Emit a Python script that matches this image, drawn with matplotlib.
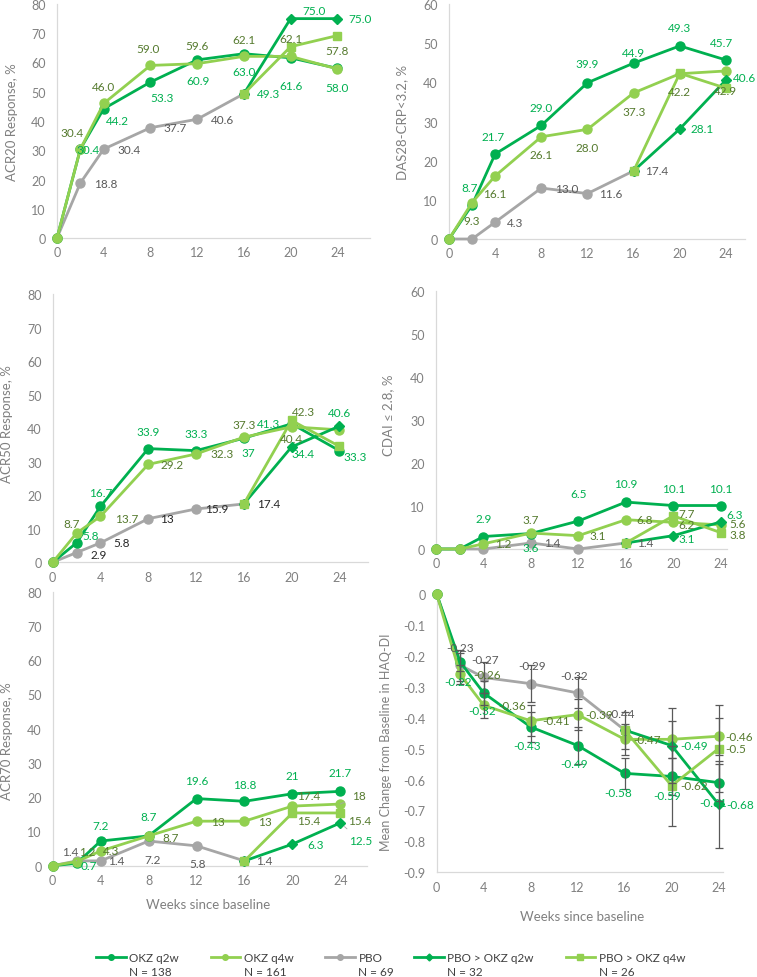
import numpy as np
import matplotlib.pyplot as plt
from matplotlib.lines import Line2D

plt.rcParams['font.family'] = ['Lato', 'DejaVu Sans']

weeks = [0, 2, 4, 8, 12, 16, 20, 24]
switch_weeks = [16, 20, 24]
tick_weeks = [0, 4, 8, 12, 16, 20, 24]

# ACR20 response, %
acr20_q2w = [0, 30.4, 44.2, 53.3, 60.9, 63.0, 61.6, 58.0]
acr20_q4w = [0, 30.4, 46.0, 59.0, 59.6, 62.1, 62.1, 57.8]
acr20_pbo = [0, 18.8, 30.4, 37.7, 40.6, 49.3]
acr20_sw2 = [49.3, 75.0, 75.0]
acr20_sw4 = [49.3, 65.4, 69.2]

# DAS28-CRP<3.2, %
das_q2w = [0, 8.7, 21.7, 29.0, 39.9, 44.9, 49.3, 45.7]
das_q4w = [0, 9.3, 16.1, 26.1, 28.0, 37.3, 42.2, 42.9]
das_pbo = [0, 0, 4.3, 13.0, 11.6, 17.4]
das_sw2 = [17.4, 28.1, 40.6]
das_sw4 = [17.4, 42.3, 38.5]

# ACR50 response, %
acr50_q2w = [0, 5.8, 16.7, 33.9, 33.3, 37.0, 41.3, 33.3]
acr50_q4w = [0, 8.7, 13.7, 29.2, 32.3, 37.3, 40.4, 39.5]
acr50_pbo = [0, 2.9, 5.8, 13, 15.9, 17.4]
acr50_sw2 = [17.4, 34.4, 40.6]
acr50_sw4 = [17.4, 42.3, 34.6]

# CDAI <= 2.8, %
cdai_q2w = [0, 0, 2.9, 3.6, 6.5, 10.9, 10.1, 10.1]
cdai_q4w = [0, 0, 1.2, 3.7, 3.1, 6.8, 6.2, 5.6]
cdai_pbo = [0, 0, 0, 1.4, 0, 1.4]
cdai_sw2 = [1.4, 3.1, 6.3]
cdai_sw4 = [1.4, 7.7, 3.8]

# ACR70 response, %
acr70_q2w = [0, 0.7, 7.2, 8.7, 19.6, 18.8, 21, 21.7]
acr70_q4w = [0, 1.2, 4.3, 8.7, 13, 13, 17.4, 18]
acr70_pbo = [0, 1.4, 1.4, 7.2, 5.8, 1.4]
acr70_sw2 = [1.4, 6.3, 12.5]
acr70_sw4 = [1.4, 15.4, 15.4]

# HAQ-DI mean change from baseline (+ error)
haq_q2w = [0, -0.22, -0.32, -0.43, -0.49, -0.58, -0.59, -0.61]
haq_q4w = [0, -0.26, -0.36, -0.41, -0.39, -0.47, -0.47, -0.46]
haq_pbo = [0, -0.23, -0.27, -0.29, -0.32, -0.44]
haq_sw2 = [-0.44, -0.49, -0.68]
haq_sw4 = [-0.44, -0.62, -0.5]
haq_q2w_err = [0, 0.03, 0.04, 0.05, 0.06, 0.05, 0.06, 0.06]
haq_q4w_err = [0, 0.03, 0.04, 0.05, 0.05, 0.05, 0.06, 0.06]
haq_pbo_err = [0, 0.05, 0.05, 0.06, 0.05, 0.06]
haq_sw2_err = [0, 0.12, 0.14]
haq_sw4_err = [0, 0.13, 0.14]

legend_names = ['OKZ q2w', 'OKZ q4w', 'PBO', 'PBO > OKZ q2w', 'PBO > OKZ q4w']
legend_n = [138, 161, 69, 32, 26]

DARK = '#00B050'
LIGHT = '#92D050'
GRAY = '#A6A6A6'
TXT = {'g': '#00B050', 'o': '#557A2E', 'k': '#595959', 'b': '#262626'}
AXC = '#D9D9D9'
TICKC = '#808080'

W, H = 757, 978
fig = plt.figure(figsize=(W / 100, H / 100), dpi=100)


def add_ax(left, right, top, bottom):
    return fig.add_axes([left / W, 1 - bottom / H, (right - left) / W, (bottom - top) / H])


def draw(ax, data, xmax, ylim, yticks, ylabel, lab_xy, labels, fmt, fs=8.5, errs=None):
    q2w, q4w, pbo, sw2, sw4 = data
    ser = {
        'pbo': (weeks[:len(pbo)], pbo),
        'q2w': (weeks, q2w),
        'q4w': (weeks, q4w),
        'sw2': (switch_weeks, sw2),
        'sw4': (switch_weeks, sw4),
    }
    style = {
        'pbo': (GRAY, 'o', 6.5),
        'q2w': (DARK, 'o', 6.5),
        'q4w': (LIGHT, 'o', 6.5),
        'sw2': (DARK, 'D', 5.0),
        'sw4': (LIGHT, 's', 6.0),
    }
    for k in ['pbo', 'q2w', 'q4w', 'sw2', 'sw4']:
        x, y = ser[k]
        c, m, ms = style[k]
        ax.plot(x, y, color=c, lw=2, marker=m, ms=ms, clip_on=False, zorder=3)
    if errs is not None:
        for k, e in errs.items():
            x, y = ser[k]
            x = np.array(x); y = np.array(y); e = np.array(e)
            sel = e > 0
            ax.errorbar(x[sel], y[sel], yerr=e[sel], fmt='none', ecolor='#595959',
                        elinewidth=0.9, capsize=3, capthick=0.9, zorder=4)
    for spec in labels:
        k, i, dx, dy, c = spec[:5]
        lead = len(spec) > 5
        x, y = ser[k]
        kw = {}
        if lead:
            kw['arrowprops'] = dict(arrowstyle='-', color='#A6A6A6', lw=0.6, shrinkA=4, shrinkB=4)
        ax.annotate(fmt.format(y[i]), (x[i], y[i]), xytext=(dx, dy), textcoords='offset pixels',
                    ha='center', va='center', fontsize=fs, color=TXT[c],
                    annotation_clip=False, zorder=5, **kw)
    ax.set_xlim(0, xmax)
    ax.set_ylim(*ylim)
    ax.set_xticks(tick_weeks)
    ax.set_yticks(yticks)
    if isinstance(yticks[0], float):
        ax.set_yticklabels(['{:g}'.format(v) for v in yticks])
    for s in ['top', 'right']:
        ax.spines[s].set_visible(False)
    for s in ['left', 'bottom']:
        ax.spines[s].set_color(AXC)
        ax.spines[s].set_linewidth(0.9)
    ax.tick_params(axis='both', length=0, labelsize=9, labelcolor=TICKC)
    ax.tick_params(axis='y', pad=8)
    ax.tick_params(axis='x', pad=6)
    ax.set_ylabel(ylabel, fontsize=9.5, color=TICKC)
    ax.yaxis.set_label_coords(*lab_xy)


# ---- ACR20
ax1 = add_ax(57, 370, 5, 239)
draw(ax1, (acr20_q2w, acr20_q4w, acr20_pbo, acr20_sw2, acr20_sw4), 26.8, (0, 80),
     list(range(0, 81, 10)), 'ACR20 Response, %', (-0.125, 0.5),
     [('q4w', 1, -8, 17, 'o', 1), ('q2w', 1, 8, 0, 'g'),
      ('q4w', 2, 0, 17, 'o'), ('q2w', 2, 14, -12, 'g'),
      ('q4w', 3, -2, 17, 'o'), ('q2w', 3, 12, -15, 'g'),
      ('q4w', 4, 0, 18, 'o'), ('q2w', 4, 1, -21, 'g'),
      ('q4w', 5, 0, 17, 'o'), ('q2w', 5, 0, -18, 'g'),
      ('sw2', 0, 25, 0, 'g'),
      ('q4w', 6, 0, 18, 'o'), ('q2w', 6, 0, -28, 'g'),
      ('sw2', 1, 23, 8, 'g'), ('sw2', 2, 23, 0, 'g'),
      ('q4w', 7, 0, 18, 'o'), ('q2w', 7, 0, -19, 'g'),
      ('pbo', 1, 25, 0, 'k'), ('pbo', 2, 25, 0, 'k'),
      ('pbo', 3, 25, 0, 'k'), ('pbo', 4, 25, 0, 'k')], '{:.1f}')

# ---- DAS28
ax2 = add_ax(449, 745, 5, 240)
draw(ax2, (das_q2w, das_q4w, das_pbo, das_sw2, das_sw4), 25.65, (0, 60),
     list(range(0, 61, 10)), 'DAS28-CRP<3.2, %', (-0.139, 0.5),
     [('q2w', 1, -2, 17, 'g'), ('q4w', 1, 0, -18, 'o'),
      ('q4w', 2, 0, -18, 'o'), ('q2w', 2, -2, 18, 'g'), ('pbo', 2, 20, 0, 'k'),
      ('q2w', 3, 0, 18, 'g'), ('q4w', 3, 0, -18, 'o'), ('pbo', 3, 25, 0, 'k'),
      ('q2w', 4, 0, 19, 'g'), ('q4w', 4, 0, -18, 'o'), ('pbo', 4, 23, 0, 'k'),
      ('q2w', 5, 0, 11, 'g'), ('q4w', 5, 0, -19, 'o'), ('pbo', 5, 23, 0, 'k'),
      ('q2w', 6, 0, 18, 'g'), ('q4w', 6, 0, -18, 'o'), ('sw2', 1, 22, 0, 'g'),
      ('q2w', 7, -4, 18, 'g'), ('q4w', 7, 0, -20, 'o'), ('sw2', 2, 19, 2, 'g')], '{:.1f}')

# ---- ACR50
ax3 = add_ax(52.7, 368, 295, 563.3)
draw(ax3, (acr50_q2w, acr50_q4w, acr50_pbo, acr50_sw2, acr50_sw4), 26.4, (0, 80),
     list(range(0, 81, 10)), 'ACR50 Response, %', (-0.125, 0.52),
     [('q4w', 1, -5, 10, 'o'), ('q2w', 1, 14, 7, 'g'), ('pbo', 1, 22, -2, 'b'),
      ('q2w', 2, 0, 14, 'g'), ('q4w', 2, 26, -2, 'o'), ('pbo', 2, 21, 0, 'b'),
      ('q2w', 3, 0, 17, 'g'), ('q4w', 3, 24, 0, 'o'), ('pbo', 3, 19, 0, 'b'),
      ('q2w', 4, 0, 17, 'g'), ('q4w', 4, 26, 0, 'o'), ('pbo', 4, 21, 0, 'b'),
      ('q4w', 5, 0, 13, 'o'), ('q2w', 5, 5, -14, 'g'), ('pbo', 5, 25, 0, 'b'),
      ('q2w', 6, -23, 0, 'g'), ('sw4', 1, 12, 9, 'o'), ('q4w', 6, 0, -12, 'o'),
      ('sw2', 1, 11, -7, 'g'), ('sw2', 2, 0, 14, 'g'), ('q2w', 7, 16, -6, 'g')], '{:g}')

# ---- CDAI
ax4 = add_ax(436, 726.7, 291.7, 550)
draw(ax4, (cdai_q2w, cdai_q4w, cdai_pbo, cdai_sw2, cdai_sw4), 24.5, (0, 60),
     list(range(0, 61, 10)), 'CDAI \u2264 2.8, %', (-0.144, 0.52),
     [('q2w', 2, 0, 18, 'g'), ('q4w', 2, 20, 0, 'o'),
      ('q4w', 3, 0, 14, 'o'), ('q2w', 3, 0, -14, 'g'), ('pbo', 3, 21, 0, 'k'),
      ('q2w', 4, 0, 28, 'g'), ('q4w', 4, 19, 0, 'o'),
      ('q2w', 5, 0, 19, 'g'), ('q4w', 5, 19, 0, 'o'), ('pbo', 5, 19, 0, 'k'),
      ('q2w', 6, 0, 17, 'g'), ('sw4', 1, 13, 2, 'o'), ('q4w', 6, 13, -2, 'o'),
      ('sw2', 1, 13, -3, 'g'),
      ('q2w', 7, 0, 17, 'g'), ('sw2', 2, 14, 7, 'g'), ('q4w', 7, 17, 1, 'o'),
      ('sw4', 2, 17, -2, 'o')], '{:g}')

# ---- ACR70
ax5 = add_ax(52.7, 366.7, 592.7, 866.7)
draw(ax5, (acr70_q2w, acr70_q4w, acr70_pbo, acr70_sw2, acr70_sw4), 26.2, (0, 80),
     list(range(0, 81, 10)), 'ACR70 Response, %', (-0.125, 0.46),
     [('pbo', 1, -6, 9, 'k', 1), ('q4w', 1, 11, 10, 'o'), ('q2w', 1, 12, -2, 'g'),
      ('q2w', 2, 0, 16, 'g'), ('q4w', 2, 10, 0, 'o'), ('pbo', 2, 16, 0, 'k'),
      ('q2w', 3, 0, 19, 'g'), ('q4w', 3, 22, -2, 'o'), ('pbo', 3, 4, -18, 'k'),
      ('q2w', 4, 0, 18, 'g'), ('q4w', 4, 21, 0, 'o'), ('pbo', 4, 1, -18, 'k'),
      ('q2w', 5, 0, 17, 'g'), ('q4w', 5, 20, 0, 'o'), ('pbo', 5, 20, 0, 'k'),
      ('q2w', 6, 0, 18, 'g'), ('q4w', 6, 16, 11, 'o'), ('sw4', 1, 16, -8, 'o'),
      ('sw2', 1, 23, 0, 'g'),
      ('q2w', 7, 0, 19, 'g'), ('q4w', 7, 19, 9, 'o', 1), ('sw4', 2, 19, -8, 'o'),
      ('sw2', 2, 20, -18, 'g', 1)], '{:g}')

# ---- HAQ-DI
ax6 = add_ax(436.7, 723.3, 595, 873.3)
draw(ax6, (haq_q2w, haq_q4w, haq_pbo, haq_sw2, haq_sw4), 24.4, (-0.9, 0),
     [0.0, -0.1, -0.2, -0.3, -0.4, -0.5, -0.6, -0.7, -0.8, -0.9],
     'Mean Change from Baseline in HAQ-DI', (-0.157, 0.47),
     [('pbo', 1, 0, 18, 'k'), ('q2w', 1, -2, -19, 'g'), ('pbo', 2, 1, 18, 'k'),
      ('q4w', 1, 27, 0, 'o'), ('q2w', 2, -2, -18, 'g'), ('q4w', 2, 28, 0, 'o'),
      ('pbo', 3, 1, 18, 'k'), ('q2w', 3, -4, -19, 'g'), ('q4w', 3, 25, 0, 'o'),
      ('pbo', 4, -4, 17, 'k'), ('q2w', 4, -4, -18, 'g'), ('q4w', 4, 21, 0, 'o'),
      ('pbo', 5, -4, 17, 'k'), ('q2w', 5, -6, -19, 'g'), ('q4w', 5, 22, 0, 'o'),
      ('q2w', 6, -4, -19, 'g'), ('sw2', 1, 22, 0, 'g'), ('sw4', 1, 22, 0, 'o'),
      ('q2w', 7, -5, -20, 'g'), ('sw2', 2, 22, 0, 'g'), ('q4w', 7, 20, 0, 'o'),
      ('sw4', 2, 17, 0, 'o')], '{:g}',
     errs={'q2w': haq_q2w_err, 'q4w': haq_q4w_err, 'pbo': haq_pbo_err,
           'sw2': haq_sw2_err, 'sw4': haq_sw4_err})
ax6.yaxis.label.set_fontsize(9)

fig.text(208 / W, 1 - 905 / H, 'Weeks since baseline', ha='center', va='center',
         fontsize=9.5, color=TICKC)
fig.text(582 / W, 1 - 917 / H, 'Weeks since baseline', ha='center', va='center',
         fontsize=9.5, color=TICKC)

# legend: names on the handle row, N below each name
leg_style = [(DARK, 'o', 4), (LIGHT, 'o', 4), (GRAY, 'o', 4), (DARK, 'D', 3.5), (LIGHT, 's', 4)]
handles = [Line2D([], [], color=c, marker=m, ms=ms, lw=2) for c, m, ms in leg_style]
leg = fig.legend(handles, legend_names, loc='center left', bbox_to_anchor=(96 / W, 1 - 959 / H),
                 ncol=5, frameon=False, fontsize=8.5, handlelength=2.5, handletextpad=0.3,
                 columnspacing=2.7, labelcolor='#404040', borderaxespad=0, borderpad=0)
fig.canvas.draw()
for t, n in zip(leg.get_texts(), legend_n):
    bb = t.get_window_extent()
    fig.text(bb.x0 / W, (bb.y0 + bb.y1) / 2 / H - 14 / H, 'N = {}'.format(n),
             ha='left', va='center', fontsize=8.5, color='#404040')

fig.savefig('out.png', dpi=100)
